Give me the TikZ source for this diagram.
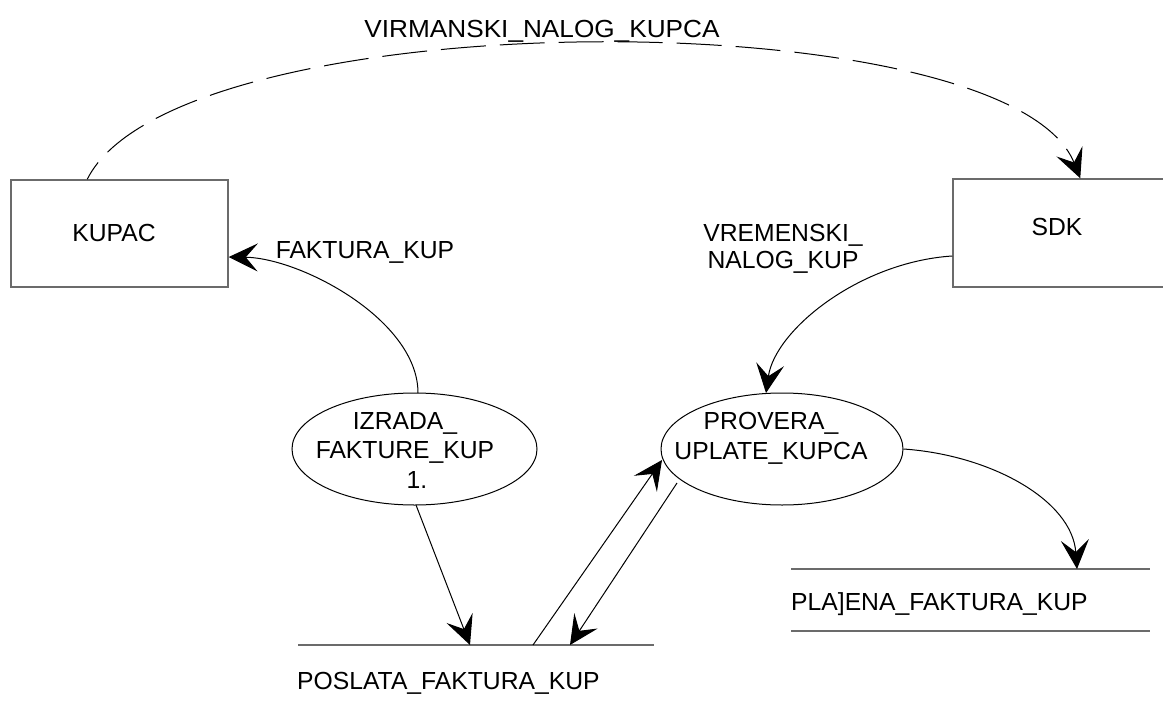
\documentclass[tikz,border=0pt]{standalone}
\usepackage{fontspec}
\usepackage{graphicx}
\setmainfont{Liberation Sans}
\usetikzlibrary{arrows.meta,shapes.geometric,calc}
\definecolor{boxgray}{gray}{0.42}
\begin{document}
\begin{tikzpicture}[x=1pt,y=-1pt,
  box/.style={draw=boxgray, line width=1.5pt, rectangle, inner sep=0pt},
  proc/.style={draw=black, ellipse, line width=1pt, inner sep=0pt},
  lbl/.style={inner sep=0pt, font=\fontsize{24.7}{29.5}\selectfont},
  flow/.style={line width=1pt, -{Stealth[length=29pt,width=28pt,inset=12pt]}},
  store/.style={draw=boxgray, line width=1.5pt}]
\clip (0,0) rectangle (1163,704);
\fill[white] (0,0) rectangle (1163,704);
% external entities
\node[box, minimum width=217pt, minimum height=107pt] (kupac) at (119.5,233.5) {};
\node[box, minimum width=217pt, minimum height=108pt] (sdk) at (1061.5,233) {};
% processes
\node[proc, minimum width=245pt, minimum height=112pt] (izrada) at (414.5,449) {};
\node[proc, minimum width=242pt, minimum height=112pt] (provera) at (782,449) {};
% data stores
\coordinate (ps1) at (298,645);
\coordinate (ps2) at (654,645);
\coordinate (pl1) at (791,569);
\coordinate (pl2) at (1150,569);
\coordinate (pl3) at (791,631);
\coordinate (pl4) at (1150,631);
\draw[store] (ps1) -- (ps2);
\draw[store] (pl1) -- (pl2);
\draw[store] (pl3) -- (pl4);
\coordinate (psTip1) at (470,645);
\coordinate (psStart) at (533,645);
\coordinate (psTip2) at (570,645);
\coordinate (plTip) at (1077,569);
% texts
\node[lbl, anchor=base] (kupacT) at (114,241) {KUPAC};
\node[lbl, anchor=base] (sdkT) at (1057,235) {SDK};
\node[lbl, anchor=north, align=center] (izradaT) at (405,412.3) {IZRADA\_\\FAKTURE\_KUP\\\hspace*{24pt}1.};
\node[lbl, anchor=north, align=center] (proveraT) at (771,412.3) {PROVERA\_\\UPLATE\_KUPCA};
\node[lbl, anchor=north, align=center, font=\fontsize{24.7}{27}\selectfont] (vremT) at (783,224.3) {VREMENSKI\_\\NALOG\_KUP};
\node[lbl, anchor=base] (faktT) at (365,258) {FAKTURA\_KUP};
\node[lbl, anchor=base] (virmT) at (542,37) {\scalebox{1.06}[1]{VIRMANSKI\_NALOG\_KUPCA}};
\node[lbl, anchor=base west] (poslT) at (297,689) {POSLATA\_FAKTURA\_KUP};
\node[lbl, anchor=base west] (plajT) at (791,610) {PLA]ENA\_FAKTURA\_KUP};
% flows
\draw[flow, dash pattern=on 45pt off 14pt, dash phase=25pt]
  ($(kupac.north west)+(77,0)$) .. controls +(90,-180) and +(-72,-180) .. ($(sdk.north west)+(128,0)$);
\draw[flow] ($(izrada.center)+(3.5,-56)$) .. controls +(0,-73) and +(72,1) .. ($(kupac.east)+(0,23.5)$);
\draw[flow] ($(sdk.west)+(0,23)$) .. controls +(-93,6) and +(9,-63) .. ($(provera.center)+(-16,-56)$);
\draw[flow] (provera.east) .. controls +(87,6) and +(-5,-69) .. (plTip);
\draw[flow] ($(izrada.center)+(1.5,56)$) -- (psTip1);
\draw[flow] (psStart) -- ($(provera.center)+(-120,11)$);
\draw[flow] ($(provera.center)+(-105,34)$) -- (psTip2);
\end{tikzpicture}
\end{document}
